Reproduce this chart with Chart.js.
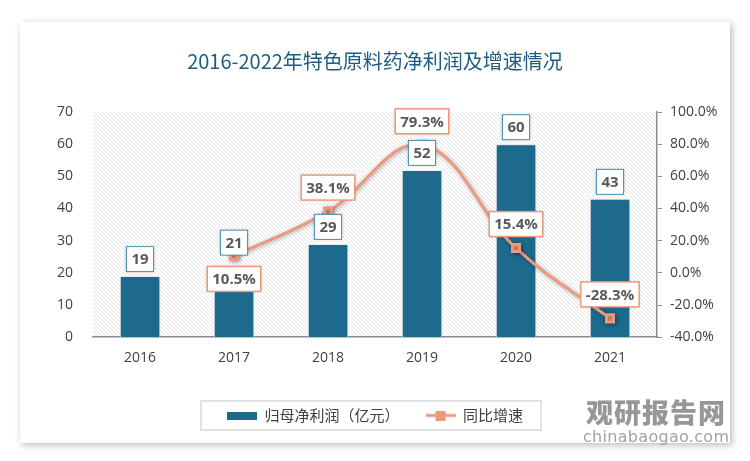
<!DOCTYPE html>
<html>
<head>
<meta charset="utf-8">
<script src="https://cdn.jsdelivr.net/npm/chart.js@4.4.0/dist/chart.umd.min.js"></script>
<style>
  body { margin: 0; background: #fff; width: 750px; height: 461px; overflow: hidden; }
  #card { position: absolute; left: 20px; top: 22px; width: 710px; height: 421px; background: #fff;
          box-shadow: 2px 2px 7px rgba(0,0,0,0.28); }
  #wrap { position: absolute; left: 20px; top: 22px; width: 710px; height: 421px; }
  .wm1 { position: absolute; left: 586px; top: 392px; font-family: "Noto Sans CJK SC"; font-weight: 900;
         font-size: 27px; color: #8c8c8c; letter-spacing: 1px; opacity: 0.9; }
  .wm2 { position: absolute; left: 583px; top: 427px; font-family: "DejaVu Sans"; font-size: 16px;
         color: #999; letter-spacing: 0.3px; opacity: 0.9; }
</style>
</head>
<body>
<div id="card"></div>
<div id="wrap"><canvas id="myChart" width="710" height="421"></canvas></div>
<div class="wm1">观研报告网</div>
<div class="wm2">chinabaogao.com</div>
<script>
var years = ["2016", "2017", "2018", "2019", "2020", "2021"];
var profit = [19, 21, 29, 52, 60, 43];
var growth = [null, 10.5, 38.1, 79.3, 15.4, -28.3];
var leftTicks = [0, 10, 20, 30, 40, 50, 60, 70];
var rightTicks = [-40, -20, 0, 20, 40, 60, 80, 100];

var barColor = "#1d6a8c";
var lineColor = "#ec9a7c";

// diagonal hatch for the plot area
var pat = document.createElement("canvas");
pat.width = 4; pat.height = 4;
var pc = pat.getContext("2d");
pc.strokeStyle = "#dedede";
pc.lineWidth = 0.8;
pc.beginPath();
pc.moveTo(-1, -1); pc.lineTo(5, 5);
pc.moveTo(3, -1); pc.lineTo(5, 1);
pc.moveTo(-1, 3); pc.lineTo(1, 5);
pc.stroke();

// legend swatches
var barSwatch = document.createElement("canvas");
barSwatch.width = 30; barSwatch.height = 8;
var bs = barSwatch.getContext("2d");
bs.fillStyle = barColor; bs.fillRect(0, 0, 30, 8);

var lineSwatch = document.createElement("canvas");
lineSwatch.width = 30; lineSwatch.height = 10;
var ls = lineSwatch.getContext("2d");
ls.strokeStyle = lineColor; ls.lineWidth = 3;
ls.beginPath(); ls.moveTo(0, 5); ls.lineTo(30, 5); ls.stroke();
ls.fillStyle = lineColor; ls.fillRect(10, 0, 10, 10);

var hatchPlugin = {
  id: "hatch",
  beforeDraw: function (chart) {
    var a = chart.chartArea, ctx = chart.ctx;
    ctx.save();
    ctx.fillStyle = ctx.createPattern(pat, "repeat");
    ctx.fillRect(a.left, a.top, a.right - a.left, a.bottom - a.top);
    ctx.restore();
  },
  beforeDatasetDraw: function (chart, args) {
    var ctx = chart.ctx;
    ctx.save();
    ctx.shadowColor = "rgba(0,0,0,0.35)";
    ctx.shadowBlur = 4;
    ctx.shadowOffsetX = 1;
    ctx.shadowOffsetY = 1;
  },
  afterDatasetDraw: function (chart) {
    chart.ctx.restore();
  }
};

var labelPlugin = {
  id: "boxLabels",
  afterDatasetsDraw: function (chart) {
    var ctx = chart.ctx;
    ctx.save();
    ctx.font = "bold 15px 'Open Sans'";
    ctx.textAlign = "center";
    ctx.textBaseline = "middle";
    chart.data.datasets.forEach(function (ds, di) {
      var meta = chart.getDatasetMeta(di);
      meta.data.forEach(function (el, i) {
        var v = ds.data[i];
        if (v === null) return;
        var txt = di === 0 ? String(v) : v.toFixed(1) + "%";
        var off = di === 0 ? (i === 1 ? -27 : -17) : (i === 1 ? 23 : -24);
        var cx = el.x, cy = el.y + off;
        var w = ctx.measureText(txt).width + 10, h = 25;
        ctx.shadowColor = "rgba(0,0,0,0.25)";
        ctx.shadowBlur = 3;
        ctx.fillStyle = "#fff";
        ctx.fillRect(cx - w / 2, cy - h / 2, w, h);
        ctx.shadowColor = "transparent";
        ctx.strokeStyle = di === 0 ? "#4a8fb0" : lineColor;
        ctx.lineWidth = di === 0 ? 1 : 1.5;
        ctx.strokeRect(cx - w / 2, cy - h / 2, w, h);
        ctx.fillStyle = "#595959";
        ctx.fillText(txt, cx, cy + 1);
      });
    });
    ctx.restore();
  }
};

var legendFrame = {
  id: "legendFrame",
  afterDraw: function (chart) {
    var boxes = chart.legend.legendHitBoxes;
    if (!boxes || !boxes.length) return;
    var l = Infinity, r = -Infinity, t = Infinity, b = -Infinity;
    boxes.forEach(function (hb) {
      l = Math.min(l, hb.left); r = Math.max(r, hb.left + hb.width);
      t = Math.min(t, hb.top); b = Math.max(b, hb.top + hb.height);
    });
    var ctx = chart.ctx;
    ctx.save();
    ctx.strokeStyle = "#d9d9d9";
    ctx.lineWidth = 1.5;
    ctx.strokeRect(l - 26, t - 7, r - l + 44, b - t + 14);
    ctx.restore();
  }
};

var ctx = document.getElementById("myChart").getContext("2d");

var data = {
  labels: years,
  datasets: [
    {
      type: "bar",
      label: "归母净利润（亿元）",
      data: profit,
      backgroundColor: barColor,
      borderColor: "#ffffff",
      borderWidth: 1,
      barPercentage: 0.43,
      categoryPercentage: 1,
      yAxisID: "y",
      order: 2
    },
    {
      type: "line",
      label: "同比增速",
      data: growth,
      borderColor: lineColor,
      backgroundColor: lineColor,
      borderWidth: 3,
      tension: 0.4,
      pointStyle: "rect",
      pointRadius: 5,
      pointHoverRadius: 5,
      yAxisID: "y1",
      order: 1
    }
  ]
};

var options = {
  responsive: false,
  animation: false,
  layout: { padding: { left: 0, right: 0, top: 0, bottom: 10 } },
  plugins: {
    title: {
      display: true,
      text: "2016-2022年特色原料药净利润及增速情况",
      color: "#1e5d80",
      font: { family: "'Noto Sans CJK SC'", size: 20, weight: "normal" },
      padding: { top: 27, bottom: 39 }
    },
    legend: {
      position: "bottom",
      labels: {
        color: "#404040",
        font: { family: "'Noto Sans CJK SC'", size: 15 },
        usePointStyle: true,
        pointStyleWidth: 30,
        padding: 26,
        sort: function (a, b) { return a.datasetIndex - b.datasetIndex; },
        generateLabels: function (chart) {
          var items = Chart.defaults.plugins.legend.labels.generateLabels(chart);
          items.forEach(function (it) {
            it.pointStyle = it.datasetIndex === 0 ? barSwatch : lineSwatch;
          });
          return items;
        }
      }
    },
    tooltip: { enabled: false }
  },
  scales: {
    x: {
      grid: { display: false },
      border: { color: "#8c8c8c", width: 1.5 },
      ticks: { color: "#404040", font: { family: "'Open Sans'", size: 14 }, padding: 4 },
      afterFit: function (s) { s.height += 12; }
    },
    y: {
      position: "left",
      min: 0,
      max: 70,
      afterBuildTicks: function (s) { s.ticks = leftTicks.map(function (v) { return { value: v }; }); },
      grid: { display: false },
      border: { display: false },
      ticks: { color: "#404040", font: { family: "'Open Sans'", size: 14 }, padding: 12 },
      afterFit: function (s) { s.width = 73; }
    },
    y1: {
      position: "right",
      min: -40,
      max: 100,
      afterBuildTicks: function (s) { s.ticks = rightTicks.map(function (v) { return { value: v }; }); },
      grid: { drawOnChartArea: false, color: "#8c8c8c", tickLength: 5 },
      border: { color: "#8c8c8c", width: 1.5 },
      ticks: {
        color: "#404040",
        font: { family: "'Open Sans'", size: 14 },
        padding: 8,
        callback: function (v) { return v.toFixed(1) + "%"; }
      },
      afterFit: function (s) { s.width = 73; }
    }
  }
};

var myChart = new Chart(ctx, {
  data: data,
  options: options,
  plugins: [hatchPlugin, labelPlugin, legendFrame]
});
</script>
</body>
</html>
